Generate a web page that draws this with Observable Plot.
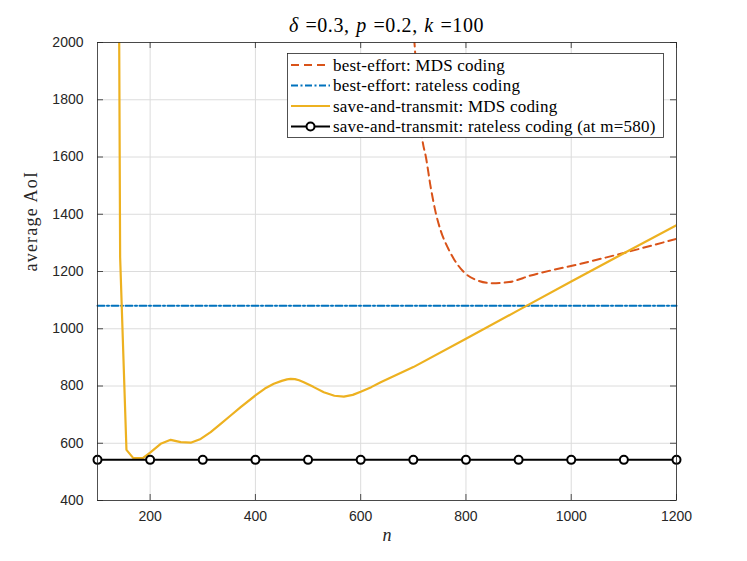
<!DOCTYPE html>
<html>
<head>
<meta charset="utf-8">
<script src="https://cdn.jsdelivr.net/npm/d3@7"></script>
<script src="https://cdn.jsdelivr.net/npm/@observablehq/plot@0.6"></script>
<style>
  body { margin: 0; background: #fff; }
  #wrap { position: relative; width: 747px; height: 561px; background: #fff; }
  #title {
    width: 747px; height: 32px; box-sizing: border-box;
    padding: 15px 71px 0 97px; text-align: center; letter-spacing: 0.6px; word-spacing: 1px;
    font-family: "Liberation Serif", "DejaVu Serif", serif; font-size: 20px; line-height: 20px; color: #000;
    white-space: nowrap;
  }
  #legend { position: absolute; left: 287px; top: 53px; }
</style>
</head>
<body>
<div id="wrap">
  <div id="title"><i>δ</i> =0.3, <i>p</i> =0.2, <i>k</i> =100</div>
  <div id="chart"></div>
  <div id="legend"></div>
</div>
<script>
// ---- data ----
const xTicks = [200, 400, 600, 800, 1000, 1200];
const yTicks = [400, 600, 800, 1000, 1200, 1400, 1600, 1800, 2000];

// best-effort: MDS coding
const beMdsN = [700, 710, 717, 724, 733, 743, 752, 765, 777, 796, 819, 850, 882, 923, 1018, 1094, 1200];
const beMdsV = [2060, 1800, 1663, 1599, 1495, 1402, 1343, 1285, 1244, 1198, 1171, 1159, 1163, 1186, 1227, 1262, 1314];

// best-effort: rateless coding
const beRlN = [100, 1200];
const beRlV = [1080, 1080];

// save-and-transmit: MDS coding
const stMdsN = [141, 143, 155, 168, 186, 200, 220, 239, 258, 277, 296, 315, 334, 353, 372, 400, 418, 435, 450, 460, 467, 475, 483, 492, 510, 530, 550, 568, 585, 600, 620, 638, 700, 800, 900, 1000, 1100, 1200];
const stMdsV = [2100, 1250, 577, 548, 548, 567, 598, 612, 604, 602, 615, 639, 668, 697, 726, 767, 791, 808, 818, 823, 825, 824, 820, 813, 797, 778, 766, 763, 769, 780, 796, 813, 866, 965, 1065, 1165, 1264, 1362];

// save-and-transmit: rateless coding (at m=580)
const stRlN = [100, 200, 300, 400, 500, 600, 700, 800, 900, 1000, 1100, 1200];
const stRlV = [542, 542, 542, 542, 542, 542, 542, 542, 542, 542, 542, 542];

const seriesLabels = [
  "best-effort: MDS coding",
  "best-effort: rateless coding",
  "save-and-transmit: MDS coding",
  "save-and-transmit: rateless coding (at m=580)"
];
const colors = ["#D95319", "#0072BD", "#EDB120", "#000000"];
const dashes = ["8,5", "7,2.5,2,2.5", null, null];

const zip = (ns, vs) => ns.map((n, i) => ({n, v: vs[i]}));
const beMds = zip(beMdsN, beMdsV);
const beRl = zip(beRlN, beRlV);
const stMds = zip(stMdsN, stMdsV);
const stRl = zip(stRlN, stRlV);

const W = 747, H = 529, mL = 97, mR = 71, mT = 10, mB = 61;
const pw = W - mL - mR, ph = H - mT - mB;
const axisColor = "#262626";
const serif = "'Liberation Serif', 'DejaVu Serif', serif";

const chart = Plot.plot({
  width: W, height: H,
  marginLeft: mL, marginRight: mR, marginTop: mT, marginBottom: mB,
  style: {fontFamily: "'Liberation Sans', Arial, sans-serif", fontSize: "14px", color: axisColor, background: "#fff"},
  x: {domain: [100, 1200]},
  y: {domain: [400, 2000]},
  marks: [
    Plot.gridX(xTicks, {stroke: "#dcdcdc", strokeOpacity: 1}),
    Plot.gridY(yTicks, {stroke: "#dcdcdc", strokeOpacity: 1}),
    // inward ticks
    Plot.ruleX(xTicks, {x: d => d, insetTop: ph - 6, stroke: axisColor, strokeWidth: 0.8}),
    Plot.ruleX(xTicks, {x: d => d, insetBottom: ph - 6, stroke: axisColor, strokeWidth: 0.8}),
    Plot.ruleY(yTicks, {y: d => d, insetRight: pw - 6, stroke: axisColor, strokeWidth: 0.8}),
    Plot.ruleY(yTicks, {y: d => d, insetLeft: pw - 6, stroke: axisColor, strokeWidth: 0.8}),
    Plot.line(beRl, {x: "n", y: "v", stroke: colors[1], strokeWidth: 2, strokeDasharray: dashes[1]}),
    Plot.line(beMds, {x: "n", y: "v", stroke: colors[0], strokeWidth: 2, strokeDasharray: dashes[0], curve: "monotone-x", clip: true}),
    Plot.line(stMds, {x: "n", y: "v", stroke: colors[2], strokeWidth: 2.2, clip: true}),
    Plot.line(stRl, {x: "n", y: "v", stroke: colors[3], strokeWidth: 2}),
    Plot.dot(stRl, {x: "n", y: "v", r: 4, stroke: colors[3], strokeWidth: 2, fill: "#fff"}),
    Plot.frame({stroke: axisColor, strokeWidth: 0.8}),
    Plot.axisX(xTicks, {tickSize: 0, tickPadding: 11, fontSize: 14, label: null, tickFormat: d => String(d)}),
    Plot.axisY(yTicks, {tickSize: 0, tickPadding: 14, fontSize: 14, label: null, tickFormat: d => String(d)}),
    Plot.text(["n"], {text: d => d, frameAnchor: "bottom", dy: 40, fontFamily: serif, fontStyle: "italic", fontSize: 18, fill: axisColor}),
    Plot.text(["average AoI"], {text: d => d, frameAnchor: "left", dx: -66, rotate: -90, fontFamily: serif, fontSize: 18, fill: axisColor})
  ]
});
document.getElementById("chart").appendChild(chart);
// letter spacing for the y label (not a Plot option)
d3.select(chart).selectAll("text").filter(function() { return this.textContent === "average AoI"; })
  .style("letter-spacing", "1.2px");

// ---- legend (overlay) ----
const lw = 377, lh = 85, rowY = [12, 32.5, 53, 73.5];
const leg = d3.select("#legend").append("svg").attr("width", lw).attr("height", lh);
leg.append("rect").attr("x", 0.5).attr("y", 0.5).attr("width", lw - 1).attr("height", lh - 1)
  .attr("fill", "#fff").attr("stroke", axisColor).attr("stroke-width", 0.8);
seriesLabels.forEach((lab, i) => {
  const g = leg.append("g").attr("transform", `translate(0,${rowY[i]})`);
  g.append("line").attr("x1", 4).attr("x2", 43).attr("y1", 0).attr("y2", 0)
    .attr("stroke", colors[i]).attr("stroke-width", 2)
    .attr("stroke-dasharray", dashes[i]);
  if (i === 3) g.append("circle").attr("cx", 23.5).attr("cy", 0).attr("r", 4)
    .attr("fill", "#fff").attr("stroke", colors[i]).attr("stroke-width", 2);
  g.append("text").attr("x", 46).attr("y", 0).attr("dy", "0.33em")
    .attr("font-family", serif).attr("font-size", 17).attr("fill", "#000")
    .style("letter-spacing", "0.22px")
    .text(lab);
});
</script>
</body>
</html>
